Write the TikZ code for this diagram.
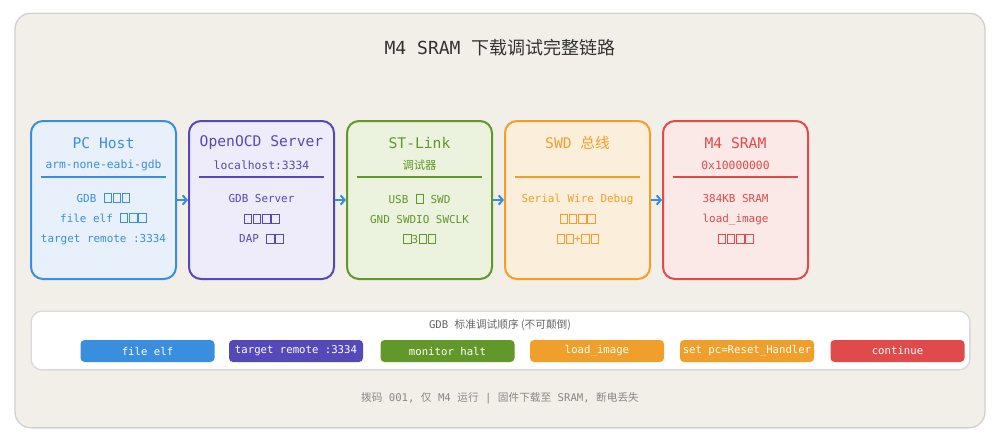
\documentclass[tikz,border=0pt]{standalone}
\usepackage{fontspec}
\setmainfont{DejaVu Sans Mono}
\newfontfamily\cjk{Noto Sans CJK SC}
\usetikzlibrary{arrows.meta}
\newcommand{\tf}{\kern0.5pt\tikz[baseline=0pt]\draw[line width=0.35pt] (0,-0.3pt) rectangle (5.5pt,6.5pt);\kern0.5pt}
\newcommand{\low}[1]{\raisebox{-3.5pt}{#1}}
\definecolor{cb}{HTML}{3A8EE0}\definecolor{fb}{HTML}{E8F1FB}
\definecolor{cp}{HTML}{5548B8}\definecolor{fp}{HTML}{EEECFA}
\definecolor{cg}{HTML}{62982A}\definecolor{fg}{HTML}{EBF2DD}
\definecolor{co}{HTML}{F0A02A}\definecolor{fo}{HTML}{FBEEDB}
\definecolor{cr}{HTML}{E04A4A}\definecolor{fr}{HTML}{FBE9E8}
\definecolor{bg}{HTML}{F2EFE8}\definecolor{gr}{HTML}{888888}
\tikzset{
 box/.style={draw=#1,line width=1.5pt,rounded corners=9pt,minimum width=108.75pt,minimum height=118.5pt,inner sep=0pt},
 ttl/.style={font=\fontsize{11}{13}\selectfont},
 sub/.style={font=\fontsize{8.5}{10}\selectfont},
 bod/.style={font=\fontsize{8.2}{10}\selectfont},
 pill/.style={fill=#1,rounded corners=3pt,minimum width=100.5pt,minimum height=16.5pt,inner sep=0pt,text=white,font=\fontsize{8}{10}\selectfont},
 con/.style={draw=cb,line width=1.5pt,-{Straight Barb[length=3pt,width=7pt]}}
}
\begin{document}
\begin{tikzpicture}[x=0.75pt,y=-0.75pt]
\useasboundingbox (0,0) rectangle (1000,440);
\node[draw=black!18,fill=bg,line width=1pt,rounded corners=12pt,minimum width=727.5pt,minimum height=311pt] (frame) at (500,220.5) {};
\node[font=\fontsize{13.5}{16}\selectfont,text=black!80] (title) at (500,48) {M4 SRAM {\cjk 下载调试完整链路}};
\foreach \i/\c/\f in {1/cb/fb,2/cp/fp,3/cg/fg,4/co/fo,5/cr/fr}{
 \node[box=\c,fill=\f] (b\i) at (103.5+158*\i-158,200) {};
 \draw[\c,line width=0.8pt] (41+158*\i-158,177) -- (166+158*\i-158,177);
}
\node[ttl,text=cb] (t1) at (103.5,143) {PC Host};
\node[sub,text=cb] (s1) at (103.5,165) {arm-none-eabi-gdb};
\node[bod,text=cb,align=center] (d1) at (103.5,219) {GDB \tf\tf\tf\\[5pt]file elf \tf\tf\tf\\[5pt]target remote :3334};
\node[ttl,text=cp] (t2) at (261.5,143) {OpenOCD Server};
\node[sub,text=cp] (s2) at (261.5,165) {localhost:3334};
\node[bod,text=cp,align=center] (d2) at (261.5,219) {GDB Server\\[5pt]\tf\tf\tf\tf\\[5pt]DAP \tf\tf};
\node[ttl,text=cg] (t3) at (419.5,143) {ST-Link};
\node[sub,text=cg,font=\fontsize{8.5}{10}\selectfont\cjk] (s3) at (419.5,165) {调试器};
\node[bod,text=cg,align=center] (d3) at (419.5,219) {USB \tf{} SWD\\[5pt]GND SWDIO SWCLK\\[5pt]\tf3\tf\tf};
\node[ttl,text=co] (t4) at (577.5,143) {SWD {\cjk 总线}};
\node[bod,text=co,align=center] (d4) at (577.5,219) {Serial Wire Debug\\[5pt]\tf\tf\tf\tf\\[5pt]\tf\tf+\tf\tf};
\node[ttl,text=cr] (t5) at (735.5,143) {M4 SRAM};
\node[sub,text=cr] (s5) at (735.5,165) {0x10000000};
\node[bod,text=cr,align=center] (d5) at (735.5,219) {384KB SRAM\\[5pt]load\_image\\[5pt]\tf\tf\tf\tf};
\foreach \a/\b in {1/2,2/3,3/4,4/5} \draw[con] (b\a.east) -- (b\b.west);
\node[draw=black!15,fill=white,line width=1pt,rounded corners=8pt,minimum width=704pt,minimum height=44pt] (panel) at (500.5,340.5) {};
\node[font=\fontsize{8}{10}\selectfont,text=black!60] (ptitle) at (500,325) {GDB {\cjk 标准调试顺序 (不可颠倒)}};
\node[pill=cb] (p1) at (147.5,351) {\low{file elf}};
\node[pill=cp] (p2) at (296,351) {\low{target remote :3334}};
\node[pill=cg] (p3) at (447.5,351) {\low{monitor halt}};
\node[pill=co] (p4) at (597,351) {\low{load\_image}};
\node[pill=co] (p5) at (747,351) {\low{set pc=Reset\_Handler}};
\node[pill=cr] (p6) at (897.5,351) {\low{continue}};
\node[font=\fontsize{8}{10}\selectfont,text=gr] (foot) at (500,398) {{\cjk 拨码} 001, {\cjk 仅} M4 {\cjk 运行} | {\cjk 固件下载至} SRAM, {\cjk 断电丢失}};
\end{tikzpicture}
\end{document}
